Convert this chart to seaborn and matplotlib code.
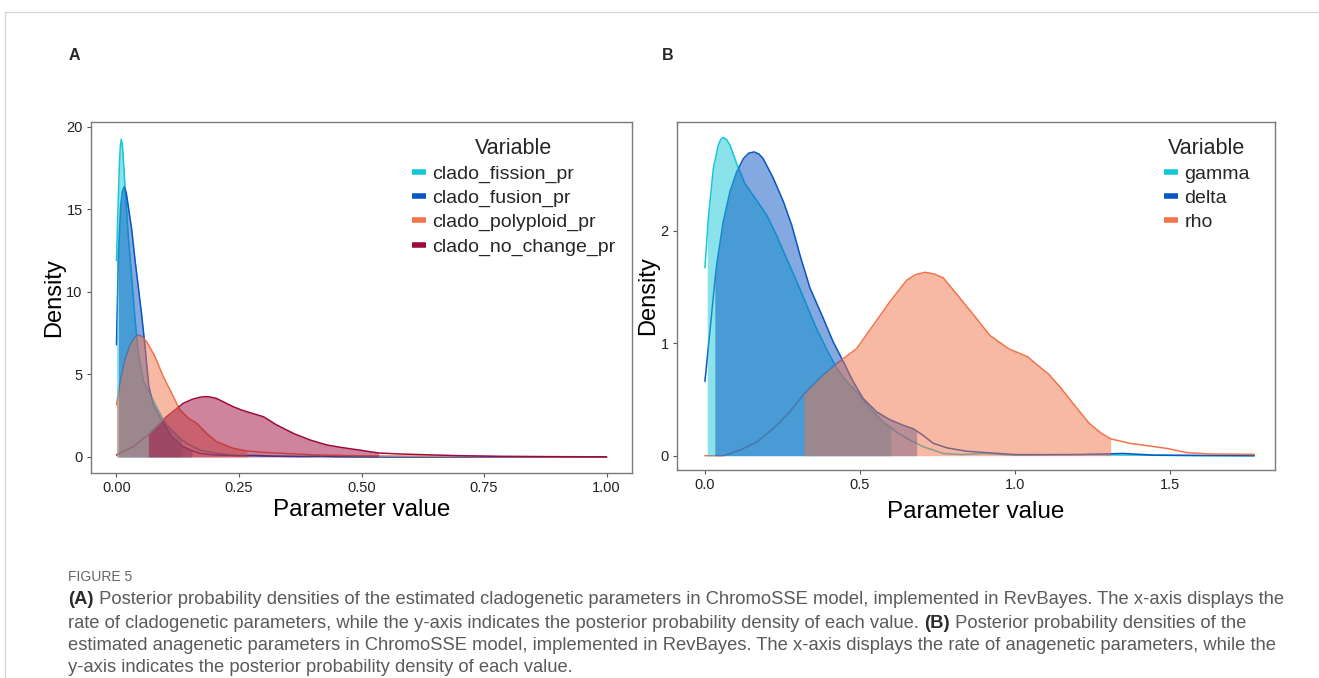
import numpy as np
import pandas as pd
import matplotlib
matplotlib.use('Agg')
import matplotlib.pyplot as plt
from matplotlib.lines import Line2D
import seaborn as sns

# =============================================================================
# DATOS
# =============================================================================
# Panel A - parametros cladogeneticos
fission_x = [0.000, 0.003, 0.006, 0.008, 0.0098, 0.012, 0.0135, 0.0173, 0.024, 0.031,
             0.038, 0.0445, 0.055, 0.0616, 0.068, 0.085, 0.102, 0.123, 0.133, 0.143,
             0.170, 0.204, 0.24, 0.30, 0.40, 0.50, 1.00]
fission_y = [11.9, 15.0, 17.8, 18.9, 19.25, 18.9, 18.3, 16.4, 13.4, 10.9,
             8.3, 6.3, 4.6, 4.2, 3.86, 2.85, 1.94, 1.33, 1.05, 0.83,
             0.42, 0.22, 0.10, 0.05, 0.02, 0.0, 0.0]

fusion_x = [0.000, 0.004, 0.0085, 0.012, 0.016, 0.020, 0.024, 0.031, 0.038, 0.0445,
            0.051, 0.058, 0.062, 0.066, 0.075, 0.092, 0.113, 0.136, 0.154, 0.170,
            0.20, 0.25, 0.28, 0.32, 0.38, 0.42, 0.45, 0.55, 1.00]
fusion_y = [6.8, 12.3, 15.2, 16.1, 16.4, 16.0, 15.2, 13.8, 11.9, 10.3,
            8.7, 6.8, 5.5, 4.3, 3.2, 2.24, 1.23, 0.63, 0.38, 0.22,
            0.12, 0.08, 0.10, 0.05, 0.03, 0.06, 0.02, 0.0, 0.0]

polyploid_x = [0.000, 0.007, 0.017, 0.0276, 0.038, 0.0446, 0.052, 0.0616, 0.0786, 0.0956,
               0.1126, 0.1296, 0.147, 0.164, 0.184, 0.204, 0.238, 0.266, 0.30, 0.34,
               0.41, 0.50, 0.60, 0.70, 0.80, 0.90, 1.00]
polyploid_y = [3.15, 4.47, 5.88, 6.79, 7.29, 7.39, 7.3, 6.99, 6.08, 4.87,
               3.86, 2.85, 2.35, 2.04, 1.43, 0.93, 0.53, 0.36, 0.28, 0.22,
               0.12, 0.07, 0.05, 0.04, 0.02, 0.01, 0.01]

nochange_x = [0.000, 0.034, 0.065, 0.068, 0.102, 0.136, 0.155, 0.170, 0.181, 0.192,
              0.204, 0.221, 0.238, 0.255, 0.272, 0.30, 0.327, 0.361, 0.395, 0.429,
              0.456, 0.50, 0.535, 0.58, 0.626, 0.70, 0.78, 0.90, 1.00]
nochange_y = [0.12, 0.63, 1.35, 1.43, 2.44, 3.25, 3.50, 3.62, 3.66, 3.63,
              3.55, 3.30, 3.05, 2.85, 2.69, 2.44, 1.94, 1.43, 1.03, 0.73,
              0.59, 0.40, 0.24, 0.18, 0.14, 0.08, 0.04, 0.02, 0.01]

vars_a = ['clado_fission_pr', 'clado_fusion_pr', 'clado_polyploid_pr', 'clado_no_change_pr']
hpd_a = [(0.000, 0.133), (0.004, 0.154), (0.000, 0.266), (0.065, 0.535)]

# Panel B - parametros anageneticos
gamma_x = [0.000, 0.0075, 0.011, 0.027, 0.043, 0.051, 0.059, 0.070, 0.081, 0.102,
           0.129, 0.167, 0.199, 0.231, 0.264, 0.296, 0.328, 0.36, 0.392, 0.425,
           0.457, 0.489, 0.532, 0.575, 0.60, 0.618, 0.661, 0.704, 0.769, 0.83,
           0.90, 1.0, 1.2, 1.4, 1.6, 1.772]
gamma_y = [1.67, 1.97, 2.11, 2.55, 2.76, 2.81, 2.83, 2.81, 2.76, 2.60,
           2.42, 2.27, 2.14, 1.96, 1.75, 1.55, 1.34, 1.13, 0.95, 0.78,
           0.66, 0.57, 0.42, 0.30, 0.25, 0.21, 0.14, 0.08, 0.02, 0.01,
           0.02, 0.005, 0.01, 0.005, 0.0, 0.0]

delta_x = [0.000, 0.016, 0.032, 0.038, 0.059, 0.081, 0.102, 0.124, 0.142, 0.159,
           0.175, 0.188, 0.22, 0.253, 0.28, 0.307, 0.339, 0.382, 0.414, 0.446,
           0.478, 0.51, 0.554, 0.597, 0.64, 0.672, 0.683, 0.704, 0.737, 0.78,
           0.844, 0.92, 1.0, 1.2, 1.35, 1.45, 1.772]
delta_y = [0.66, 1.10, 1.55, 1.70, 2.08, 2.35, 2.52, 2.64, 2.69, 2.70,
           2.68, 2.64, 2.47, 2.26, 2.05, 1.78, 1.49, 1.22, 1.01, 0.84,
           0.66, 0.51, 0.39, 0.32, 0.27, 0.24, 0.22, 0.18, 0.11, 0.07,
           0.04, 0.025, 0.01, 0.01, 0.02, 0.005, 0.0]

rho_x = [0.000, 0.059, 0.113, 0.167, 0.22, 0.274, 0.32, 0.328, 0.382, 0.435,
         0.489, 0.543, 0.597, 0.651, 0.68, 0.71, 0.74, 0.769, 0.823, 0.876,
         0.919, 0.98, 1.041, 1.075, 1.107, 1.146, 1.186, 1.239, 1.278, 1.309,
         1.37, 1.436, 1.489, 1.555, 1.634, 1.772]
rho_y = [0.0, 0.0, 0.05, 0.12, 0.24, 0.39, 0.55, 0.57, 0.72, 0.84,
         0.95, 1.16, 1.37, 1.56, 1.61, 1.63, 1.615, 1.58, 1.40, 1.22,
         1.07, 0.95, 0.88, 0.80, 0.73, 0.61, 0.47, 0.29, 0.20, 0.15,
         0.11, 0.086, 0.065, 0.027, 0.015, 0.012]

vars_b = ['gamma', 'delta', 'rho']
hpd_b = [(0.0075, 0.60), (0.032, 0.683), (0.32, 1.309)]

col_cyan = '#17C7D6'
col_blue = '#0A55C4'
col_orange = '#F2744A'
col_crimson = '#9E0A3C'
pal_a = dict(zip(vars_a, [col_cyan, col_blue, col_orange, col_crimson]))
pal_b = dict(zip(vars_b, [col_cyan, col_blue, col_orange]))


def armar_df(nombres, xs, ys):
    filas = []
    for n, x, y in zip(nombres, xs, ys):
        filas.append(pd.DataFrame({'variable': n, 'x': x, 'density': y}))
    return pd.concat(filas, ignore_index=True)


df_a = armar_df(vars_a, [fission_x, fusion_x, polyploid_x, nochange_x],
                [fission_y, fusion_y, polyploid_y, nochange_y])
df_b = armar_df(vars_b, [gamma_x, delta_x, rho_x], [gamma_y, delta_y, rho_y])

# =============================================================================
# FIGURA
# =============================================================================
sns.set_theme(style='ticks')
plt.rcParams['font.family'] = ['Liberation Sans', 'DejaVu Sans']

W, H = 1319, 678
fig = plt.figure(figsize=(W / 100, H / 100), dpi=100)
fig.patch.set_facecolor('white')


def px_axes(l, t, r, b):
    return fig.add_axes([l / W, 1 - b / H, (r - l) / W, (b - t) / H])


ax_a = px_axes(91, 122, 632, 473)
ax_b = px_axes(677, 122, 1275, 470)


def dibujar(ax, df, nombres, pal, hpd, pad_y, pad_x):
    sns.lineplot(data=df, x='x', y='density', hue='variable', hue_order=nombres,
                 palette=pal, estimator=None, sort=False, linewidth=1.1,
                 legend=False, ax=ax, zorder=2)
    for n, (lo, hi) in zip(nombres, hpd):
        sub = df[(df['variable'] == n) & (df['x'] >= lo) & (df['x'] <= hi)]
        ax.fill_between(sub['x'], 0, sub['density'], color=pal[n], alpha=0.5,
                        linewidth=0, zorder=3)
    for s in ax.spines.values():
        s.set_visible(True)
        s.set_color('#7a7a7a')
        s.set_linewidth(1.0)
    ax.tick_params(direction='out', length=3, width=0.8, color='#555555',
                   labelsize=10.5, labelcolor='#222222', pad=3)
    ax.set_xlabel('Parameter value', fontsize=17.5, labelpad=pad_x, color='black')
    ax.set_ylabel('Density', fontsize=17, labelpad=pad_y, color='black')
    handles = [Line2D([0], [0], color=pal[n], lw=4, solid_capstyle='butt') for n in nombres]
    return handles


estilo_ley = dict(title='Variable', loc='upper left', frameon=False,
                  bbox_transform=fig.transFigure, borderpad=0, handlelength=0.75,
                  handletextpad=0.3, labelspacing=0.33, fontsize=14, title_fontsize=15.5)

h_a = dibujar(ax_a, df_a, vars_a, pal_a, hpd_a, pad_y=0.5, pad_x=3)
ax_a.set_xlim(-0.052, 1.052)
ax_a.set_ylim(-0.97, 20.3)
ax_a.set_xticks([0, 0.25, 0.5, 0.75, 1.0])
ax_a.set_xticklabels(['0.00', '0.25', '0.50', '0.75', '1.00'])
ax_a.set_yticks([0, 5, 10, 15, 20])
ax_a.legend(h_a, vars_a, bbox_to_anchor=(402 / W, 1 - 128 / H), **estilo_ley)

h_b = dibujar(ax_b, df_b, vars_b, pal_b, hpd_b, pad_y=1, pad_x=6)
ax_b.set_xlim(-0.090, 1.839)
ax_b.set_ylim(-0.127, 2.966)
ax_b.set_xticks([0, 0.5, 1.0, 1.5])
ax_b.set_xticklabels(['0.0', '0.5', '1.0', '1.5'])
ax_b.set_yticks([0, 1, 2])
ax_b.legend(h_b, vars_b, bbox_to_anchor=(1154 / W, 1 - 128 / H), **estilo_ley)

# etiquetas de panel
fig.text(74 / W, 1 - 55 / H, 'A', fontsize=11.5, weight='bold', ha='center', va='center')
fig.text(668 / W, 1 - 55 / H, 'B', fontsize=11.5, weight='bold', ha='center', va='center')

# marco de la pagina
fig.add_artist(Line2D([5 / W, 1], [1 - 12 / H, 1 - 12 / H], transform=fig.transFigure,
                      color='#d6d6d6', lw=1))
fig.add_artist(Line2D([5 / W, 5 / W], [0, 1 - 12 / H], transform=fig.transFigure,
                      color='#d6d6d6', lw=1))

# =============================================================================
# LEYENDA DE LA FIGURA
# =============================================================================
fuente_cap = ['Liberation Sans Narrow', 'Liberation Sans', 'DejaVu Sans']
fig.text(68 / W, 1 - 577 / H, 'FIGURE 5', fontsize=10, color='#666666',
         family=fuente_cap, ha='left', va='center')

lineas = [
    [('(A)', True), (' Posterior probability densities of the estimated cladogenetic parameters in ChromoSSE model, implemented in RevBayes. The x-axis displays the', False)],
    [('rate of cladogenetic parameters, while the y-axis indicates the posterior probability density of each value. ', False), ('(B)', True), (' Posterior probability densities of the', False)],
    [('estimated anagenetic parameters in ChromoSSE model, implemented in RevBayes. The x-axis displays the rate of anagenetic parameters, while the', False)],
    [('y-axis indicates the posterior probability density of each value.', False)],
]
y_lineas = [600, 623, 646, 668]

renderer = fig.canvas.get_renderer()
for partes, yl in zip(lineas, y_lineas):
    x = 68
    for txt, negrita in partes:
        t = fig.text(x / W, 1 - yl / H, txt, fontsize=13.2, family=fuente_cap,
                     color='#2b2b2b' if negrita else '#5a5a5a',
                     weight='bold' if negrita else 'normal', ha='left', va='center')
        x += t.get_window_extent(renderer=renderer).width

fig.savefig('out.png', dpi=100, facecolor='white')
